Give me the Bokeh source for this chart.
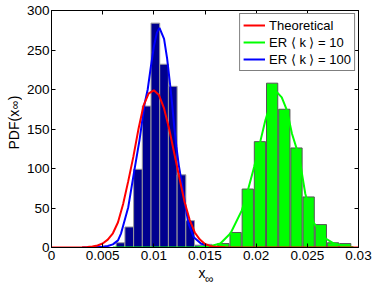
from bokeh.plotting import figure
from bokeh.layouts import row, column
from bokeh.models import Range1d, LinearAxis, FixedTicker, Legend, LegendItem
from bokeh.core.properties import value
from bokeh.embed import file_html
from bokeh.resources import INLINE
import math

# ---------------- data ----------------
x_ticks = [0, 0.005, 0.01, 0.015, 0.02, 0.025, 0.03]
x_tick_labels = ["0", "0.005", "0.01", "0.015", "0.02", "0.025", "0.03"]
y_ticks = [0, 50, 100, 150, 200, 250, 300]
y_tick_labels = ["0", "50", "100", "150", "200", "250", "300"]

# histogram of ER <k> = 100 (dark blue bars)
blue_centers = [0.00674, 0.0076, 0.00845, 0.0093, 0.01015, 0.011, 0.01185, 0.0127, 0.01355, 0.0144, 0.01525]
blue_heights = [6, 26, 99, 179, 284, 232, 204, 92, 34, 3, 4]
blue_bar_width = 0.00085

# histogram of ER <k> = 10 (green bars)
green_centers = [0.0168, 0.01799, 0.01918, 0.02037, 0.02156, 0.02275, 0.02394, 0.02513, 0.02632, 0.02751, 0.0287]
green_heights = [5, 19, 74, 134, 208, 175, 126, 64, 29, 6, 5]
green_bar_width = 0.0011

# theoretical curve (red)
red_x = [0, 0.002, 0.003, 0.0035, 0.004, 0.0045, 0.005, 0.0055, 0.006, 0.0065,
         0.007, 0.0075, 0.008, 0.0085, 0.009, 0.0095, 0.01, 0.0105, 0.011, 0.0115,
         0.012, 0.0125, 0.013, 0.0135, 0.014, 0.0145, 0.015, 0.0155, 0.016, 0.017,
         0.018, 0.02, 0.025, 0.03]
red_y = [0, 0, 0.2, 0.5, 1.2, 2.5, 5, 10, 18, 32,
         55, 84, 115, 150, 180, 195, 199, 193, 176, 150,
         119, 88, 58, 35, 19, 10, 4.5, 2, 0.8, 0.2,
         0, 0, 0, 0]

# ER <k> = 100 density (blue curve)
blue_x = [0.003, 0.004, 0.005, 0.0055, 0.006, 0.0065, 0.0068, 0.0075, 0.0081, 0.0086,
          0.0091, 0.0094, 0.0097, 0.01, 0.0103, 0.01055, 0.011, 0.0113, 0.0116, 0.0118,
          0.012, 0.0122, 0.01244, 0.0128, 0.0131, 0.0134, 0.0139, 0.0146, 0.0155, 0.0165]
blue_y = [0, 0.3, 1, 2, 4, 9, 18, 51, 98, 136,
          182, 200, 228, 254, 272, 278, 264, 239, 205, 180,
          152, 128, 104, 77, 51, 30, 13, 5, 1, 0]

# ER <k> = 10 density (green curve)
green_x = [0.006, 0.014, 0.0155, 0.0165, 0.0175, 0.0186, 0.0191, 0.0198, 0.0204, 0.0209,
           0.0214, 0.022, 0.0225, 0.023, 0.0235, 0.0242, 0.0248, 0.0256, 0.0266, 0.0276,
           0.0286, 0.0295]
green_y = [0, 0, 1.5, 5, 18, 47, 68, 102, 134, 161,
           182, 197, 190, 174, 144, 115, 68, 32, 13, 5,
           1.6, 0.3]

legend_labels = ["Theoretical", "ER \u27e8 k \u27e9 = 10", "ER \u27e8 k \u27e9 = 100"]
x_title, y_title, sub_text, close_text = "x", "PDF(x", "\u221e", ")"

FONT = "Liberation Sans"

# ---------------- layout sizes (px) ----------------
W, H = 374, 285
LEFT_W = 22            # strip holding the y title
BOTTOM_H = 19          # strip holding the x title
MAIN_W, MAIN_H = W - LEFT_W, H - BOTTOM_H
FRAME_L, FRAME_R, FRAME_T, FRAME_B = 51, 358, 10, 247   # page px of the plot frame

X0, X1, Y0, Y1 = 0, 0.03, 0, 300

p = figure(width=MAIN_W, height=MAIN_H,
           x_range=Range1d(X0, X1), y_range=Range1d(Y0, Y1),
           output_backend="svg", toolbar_location=None,
           x_axis_location=None, y_axis_location=None,
           min_border_left=FRAME_L - LEFT_W, min_border_right=W - FRAME_R,
           min_border_top=FRAME_T, min_border_bottom=MAIN_H - FRAME_B)
p.grid.visible = False
p.outline_line_color = "black"
p.outline_line_width = 1
p.background_fill_color = "white"
p.border_fill_color = "white"


def style_axis(ax, show_labels, standoff):
    ax.major_tick_in = 4
    ax.major_tick_out = 0
    ax.minor_tick_line_color = None
    ax.axis_line_color = "black"
    ax.major_tick_line_color = "black"
    ax.major_label_text_font = FONT
    ax.major_label_standoff = standoff
    if show_labels:
        ax.major_label_text_font_size = "13.5px"
        ax.major_label_text_color = "black"
    else:
        ax.major_label_text_font_size = "0px"
        ax.major_label_text_color = None
        ax.major_label_standoff = 0


xb = LinearAxis(ticker=FixedTicker(ticks=x_ticks),
                major_label_overrides=dict(zip(x_ticks, x_tick_labels)))
style_axis(xb, True, 3)
p.add_layout(xb, "below")

xt = LinearAxis(ticker=FixedTicker(ticks=x_ticks))
style_axis(xt, False, 0)
p.add_layout(xt, "above")

yl = LinearAxis(ticker=FixedTicker(ticks=y_ticks),
                major_label_overrides=dict(zip(y_ticks, y_tick_labels)))
style_axis(yl, True, 2)
p.add_layout(yl, "left")

yr = LinearAxis(ticker=FixedTicker(ticks=y_ticks))
style_axis(yr, False, 0)
p.add_layout(yr, "right")

# bars
p.vbar(x=blue_centers, top=blue_heights, bottom=0, width=blue_bar_width,
       fill_color="#00008F", line_color="#9a9a9a", line_width=1)
p.vbar(x=green_centers, top=green_heights, bottom=0, width=green_bar_width,
       fill_color="#00FF00", line_color="#555555", line_width=1)

# curves
r_blue = p.line(blue_x, blue_y, line_color="#0000FF", line_width=2)
r_green = p.line(green_x, green_y, line_color="#00FF00", line_width=2)
r_red = p.line(red_x, red_y, line_color="#FF0000", line_width=2)

legend = Legend(items=[LegendItem(label=legend_labels[0], renderers=[r_red]),
                       LegendItem(label=legend_labels[1], renderers=[r_green]),
                       LegendItem(label=legend_labels[2], renderers=[r_blue])],
                location="top_right")
legend.margin = 3
legend.padding = 3
legend.spacing = 1
legend.glyph_width = 22
legend.glyph_height = 16
legend.label_height = 16
legend.label_standoff = 4
legend.label_text_font = FONT
legend.label_text_font_size = "13px"
legend.label_text_color = "black"
legend.border_line_color = "black"
legend.border_line_width = 1
legend.background_fill_color = "white"
legend.background_fill_alpha = 1
p.add_layout(legend)


# ---------------- title strips (axis titles with subscript) ----------------
def strip(width, height, x_lo, x_hi, y_top):
    # a bare canvas; its data units are the page pixels its frame covers
    f = figure(width=width, height=height,
               x_range=Range1d(x_lo, x_hi),
               y_range=Range1d(H - (y_top + height), H - y_top),
               output_backend="svg", toolbar_location=None,
               x_axis_location=None, y_axis_location=None,
               min_border=0, min_border_left=0, min_border_right=0,
               min_border_top=0, min_border_bottom=0)
    f.grid.visible = False
    f.outline_line_color = None
    f.background_fill_color = "white"
    f.border_fill_color = "white"
    return f


def put(f, px, py, text, size, align, angle=0):
    f.text(x=[px], y=[H - py], text=[text], angle=angle,
           text_font=value(FONT), text_font_size=value(size),
           text_align=align, text_baseline="alphabetic", text_color="black")


left_strip = strip(LEFT_W, H, 0, LEFT_W, 0)
ang = math.pi / 2
put(left_strip, 13.5, 149, y_title, "14px", "left", ang)
put(left_strip, 14.8, 108.8, sub_text, "12px", "left", ang)
put(left_strip, 13.5, 99.8, close_text, "14px", "left", ang)

# the column aligns this strip's frame with the plot frame (page x 51..358)
bottom_strip = strip(MAIN_W, BOTTOM_H, FRAME_L, FRAME_R, MAIN_H)
put(bottom_strip, 201.5, 272.5, x_title, "14px", "center")
put(bottom_strip, 204.5, 278.5, sub_text, "12px", "left")

layout = row(left_strip, column(p, bottom_strip, spacing=0), spacing=0)

open("out.html", "w").write(file_html(layout, INLINE))
